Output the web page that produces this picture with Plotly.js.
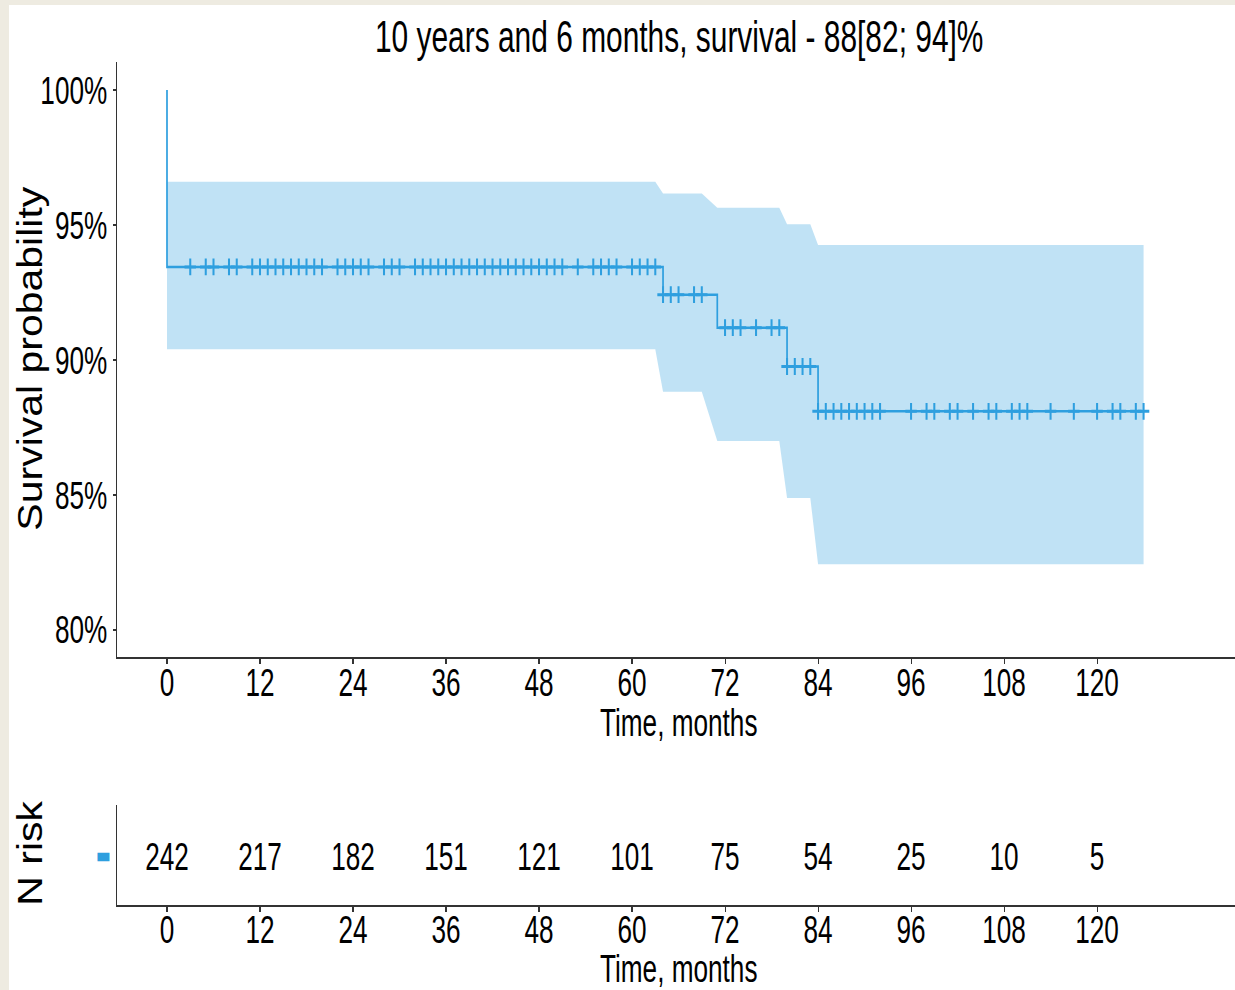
<!DOCTYPE html>
<html>
<head>
<meta charset="utf-8">
<script src="https://cdn.plot.ly/plotly-3.0.1.min.js"></script>
<style>
  html, body { margin: 0; padding: 0; background: #EEEBE1; overflow: hidden; width: 1235px; height: 990px; }
  #wrap { position: absolute; left: 9px; top: 5px; width: 1226px; height: 985px; background: #ffffff; overflow: hidden; }
  #chart { position: absolute; left: 0; top: 0; width: 1803px; height: 985px; transform: scaleX(0.68); transform-origin: 0 0; }
  #side { position: absolute; left: 0; top: 0; width: 1442px; height: 985px; transform: scaleX(0.85); transform-origin: 0 0; pointer-events: none; }
</style>
</head>
<body>
<div id="wrap"><div id="chart"></div><div id="side"></div></div>
<script>
// ---- data ----
const survTime = [0, 0, 64, 71, 80, 84, 126];
const survPct  = [100, 93.45, 92.42, 91.2, 89.76, 88.1, 88.1];

const ciTime  = [0, 63, 64, 69, 71, 79, 80, 83, 84, 126];
const ciUpper = [96.6, 96.6, 96.17, 96.17, 95.64, 95.64, 95.03, 95.03, 94.26, 94.26];
const ciLower = [90.4, 90.4, 88.83, 88.83, 87.0, 87.0, 84.89, 84.89, 82.44, 82.44];

const censorTime = [3,5,6,8,9,11,12,13,14,15,16,17,18,19,20,22,23,24,25,26,28,29,30,32,33,34,35,36,37,38,39,40,41,42,43,44,45,46,47,48,49,50,51,53,55,56,57,58,60,61,62,63,
  64,65,66,68,69,
  72,73,74,76,78,79,
  80,81,82,83,
  84,85,86,87,88,89,90,91,92,96,98,99,101,102,104,106,107,109,110,111,114,117,120,122,123,125,126];

const riskTime  = [0, 12, 24, 36, 48, 60, 72, 84, 96, 108, 120];
const riskCount = [242, 217, 182, 151, 121, 101, 75, 54, 25, 10, 5];

const yTicks = [80, 85, 90, 95, 100];
const yTickText = ['80%', '85%', '90%', '95%', '100%'];

const titleText = "10 years and 6 months, survival - 88[82; 94]%";
const xTitle = "Time, months";
const yTitle = "Survival probability";
const riskTitle = "N risk";

// ---- helpers ----
function survAt(t) {
  let v = survPct[0];
  for (let i = 0; i < survTime.length; i++) { if (survTime[i] <= t) v = survPct[i]; }
  return v;
}
const censorPct = censorTime.map(survAt);

const BLUE = '#2E9FDF';
const FONT = "'Liberation Sans', Arial, sans-serif";
const AX = '#333333';
const TS = 38.5;

const W = 1226, H = 985;
const fx = x => (x - 9) / W;
const fy = y => 1 - (y - 5) / H;

const traces = [
  { x: ciTime, y: ciLower, type: 'scatter', mode: 'lines', line: {width: 0, color: 'rgba(0,0,0,0)'},
    xaxis: 'x', yaxis: 'y', hoverinfo: 'skip', showlegend: false },
  { x: ciTime, y: ciUpper, type: 'scatter', mode: 'lines', line: {width: 0, color: 'rgba(0,0,0,0)'},
    fill: 'tonexty', fillcolor: 'rgba(46,159,223,0.3)', xaxis: 'x', yaxis: 'y', hoverinfo: 'skip', showlegend: false },
  { x: survTime, y: survPct, type: 'scatter', mode: 'lines', line: {shape: 'hv', width: 2.5, color: BLUE},
    xaxis: 'x', yaxis: 'y', showlegend: false },
  { x: censorTime, y: censorPct, type: 'scatter', mode: 'markers',
    marker: {symbol: 'cross-thin-open', size: 12, color: BLUE, line: {width: 3, color: BLUE}},
    xaxis: 'x', yaxis: 'y', showlegend: false },
  { x: riskTime, y: riskTime.map(() => 0), type: 'scatter', mode: 'text', text: riskCount.map(String),
    textposition: 'middle center', textfont: {family: FONT, size: TS, color: '#000'},
    xaxis: 'x2', yaxis: 'y2', showlegend: false, hoverinfo: 'skip' }
];

const xr = [-6.45, 137.8];
const axisCommon = {
  showline: true, linecolor: AX, linewidth: 1.6, showgrid: false, zeroline: false,
  ticks: 'outside', ticklen: 5, tickwidth: 1.6, tickcolor: AX,
  tickfont: {family: FONT, size: TS, color: '#000'}
};

const layout = {
  width: 1803, height: 985,
  margin: {l: 0, r: 0, t: 0, b: 0},
  paper_bgcolor: '#ffffff', plot_bgcolor: '#ffffff',
  showlegend: false,
  xaxis: Object.assign({}, axisCommon, {domain: [fx(117), 1], range: xr, tickvals: riskTime, anchor: 'y', ticklabelstandoff: -14}),
  yaxis: Object.assign({}, axisCommon, {domain: [fy(657), fy(62)], range: [79.0, 101.04], tickvals: yTicks, ticktext: yTickText, anchor: 'x'}),
  xaxis2: Object.assign({}, axisCommon, {domain: [fx(117), 1], range: xr, tickvals: riskTime, anchor: 'y2', ticklabelstandoff: -15}),
  yaxis2: Object.assign({}, axisCommon, {domain: [fy(905), fy(805)], range: [-0.9, 1.1], tickvals: [0], ticktext: ['▬'],
    ticks: '', ticklabelstandoff: 3, ticklabelshift: -5,
    tickfont: {family: "'DejaVu Sans', sans-serif", size: 23, color: BLUE}, anchor: 'x2'}),
  annotations: [
    {text: titleText, xref: 'paper', yref: 'paper', x: fx(679), y: fy(36), xanchor: 'center', yanchor: 'middle',
     showarrow: false, font: {family: FONT, size: 44, color: '#000'}},
    {text: xTitle, xref: 'paper', yref: 'paper', x: fx(679), y: fy(722), xanchor: 'center', yanchor: 'middle',
     showarrow: false, font: {family: FONT, size: TS, color: '#000'}},
    {text: xTitle, xref: 'paper', yref: 'paper', x: fx(679), y: fy(968), xanchor: 'center', yanchor: 'middle',
     showarrow: false, font: {family: FONT, size: TS, color: '#000'}}
  ]
};

Plotly.newPlot('chart', traces, layout, {displayModeBar: false, staticPlot: true});

// rotated side titles drawn in a separate transparent layer
const sideLayout = {
  width: 1442, height: 985,
  margin: {l: 0, r: 0, t: 0, b: 0},
  paper_bgcolor: 'rgba(0,0,0,0)', plot_bgcolor: 'rgba(0,0,0,0)',
  xaxis: {visible: false, range: [0, 1]}, yaxis: {visible: false, range: [0, 1]},
  annotations: [
    {text: yTitle, xref: 'paper', yref: 'paper', x: fx(30), y: fy(358), xanchor: 'center', yanchor: 'middle',
     textangle: -90, showarrow: false, font: {family: FONT, size: 41, color: '#000'}},
    {text: riskTitle, xref: 'paper', yref: 'paper', x: fx(30), y: fy(853), xanchor: 'center', yanchor: 'middle',
     textangle: -90, showarrow: false, font: {family: FONT, size: 41, color: '#000'}}
  ]
};
Plotly.newPlot('side', [], sideLayout, {displayModeBar: false, staticPlot: true});
</script>
</body>
</html>
